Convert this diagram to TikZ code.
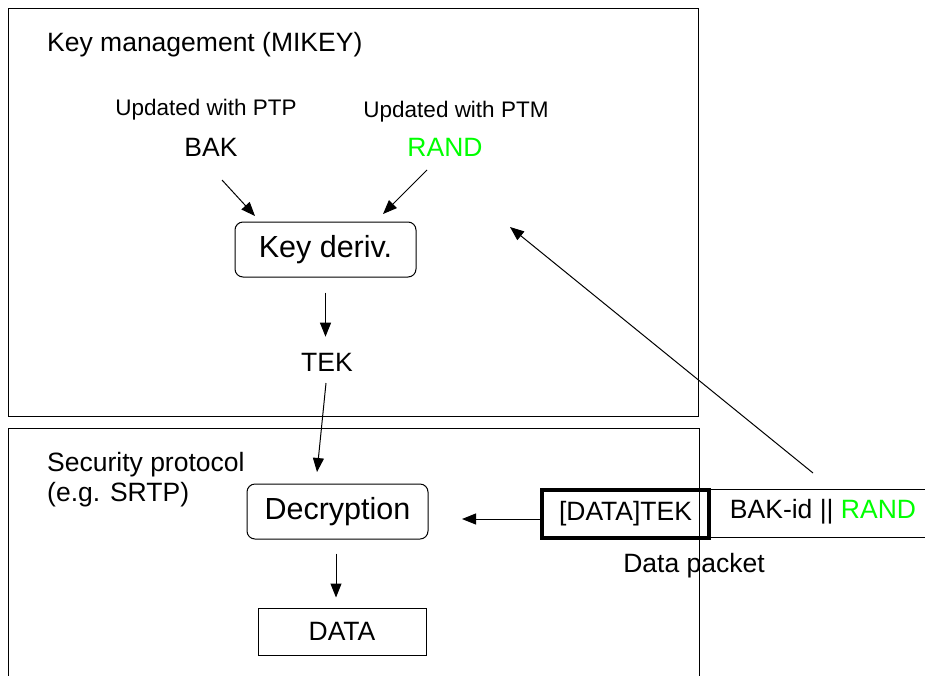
\documentclass[tikz,border=0pt]{standalone}
\usepackage{fontspec}
\setmainfont{Liberation Sans}
\usetikzlibrary{arrows.meta}
\definecolor{lime}{RGB}{0,255,0}
\begin{document}
\begin{tikzpicture}[x=1pt,y=-1pt,
  arr/.style={line width=1pt,-{Triangle[length=14pt,width=11pt]}},
  frame/.style={draw,line width=1pt},
  rbox/.style={draw,line width=1pt,rounded corners=8pt,minimum width=181pt,inner sep=0pt},
  lbl/.style={inner sep=0pt,anchor=west},
  big/.style={font=\fontsize{30.5}{34}\selectfont},
  med/.style={font=\fontsize{26.5}{30}\selectfont},
  sml/.style={font=\fontsize{22.5}{26}\selectfont}]
\clip (0,0) rectangle (925,675);
\fill[white] (0,0) rectangle (925,675);
% frames
\draw[frame] (8,8) rectangle (698,416);
\draw[frame] (8,428) rectangle (699,700);
% top texts
\node[lbl,med] (km) at (47,45) {Key management (MIKEY)};
\node[inner sep=0pt,sml] (uptp) at (206,110) {Updated with PTP};
\node[inner sep=0pt,sml] (uptm) at (456,112) {Updated with PTM};
\node[inner sep=0pt,med] (bak) at (211,147) {BAK};
\node[inner sep=0pt,med,text=lime] (rand) at (445,147) {RAND};
\node[rbox,big,minimum height=55pt] (kd) at (325.5,249.5) {Key deriv.};
\node[inner sep=0pt,med] (tek) at (327,362) {TEK};
% bottom texts
\node[lbl,med,align=left] (sp) at (47,480) {Security protocol\\(e.g. SRTP)};
\node[rbox,big,minimum height=55pt] (dec) at (337.5,511.5) {Decryption};
\node[draw,line width=1pt,minimum width=168pt,minimum height=47pt,inner sep=0pt,med] (data) at (342,631.5) {DATA};
% packet
\draw[line width=1pt] (710,489) -- (940,489) (710,537) -- (940,537);
\node[inner sep=0pt,med] (bakid) at (823,512) {BAK-id || \textcolor{lime}{RAND}};
\node[draw,line width=3.5pt,minimum width=167pt,minimum height=48pt,inner sep=0pt,med] (dt) at (625.5,514) {[DATA]TEK};
\node[inner sep=0pt,med] (dp) at (694,566) {Data packet};
% connector endpoints
\coordinate (b1) at (222,180); \coordinate (b2) at (255,216);
\coordinate (r1) at (427,170); \coordinate (r2) at (383,214);
\coordinate (t1) at (326,383); \coordinate (t2) at (317,472);
\coordinate (p1) at (813,473); \coordinate (p2) at (510,227);
\coordinate (dtin) at (462,519);
% connectors
\draw[arr] (b1) -- (b2);
\draw[arr] (r1) -- (r2);
\draw[arr,shorten <=15pt,shorten >=16pt] (kd.south) -- (kd.south |- tek.north);
\draw[arr] (t1) -- (t2);
\draw[arr] (p1) -- (p2);
\draw[arr] (dt.west |- dtin) -- (dtin);
\draw[arr,shorten <=14pt,shorten >=10pt] ([xshift=-1.5pt]dec.south) -- ([xshift=-1.5pt]dec.south |- data.north);
\end{tikzpicture}
\end{document}
